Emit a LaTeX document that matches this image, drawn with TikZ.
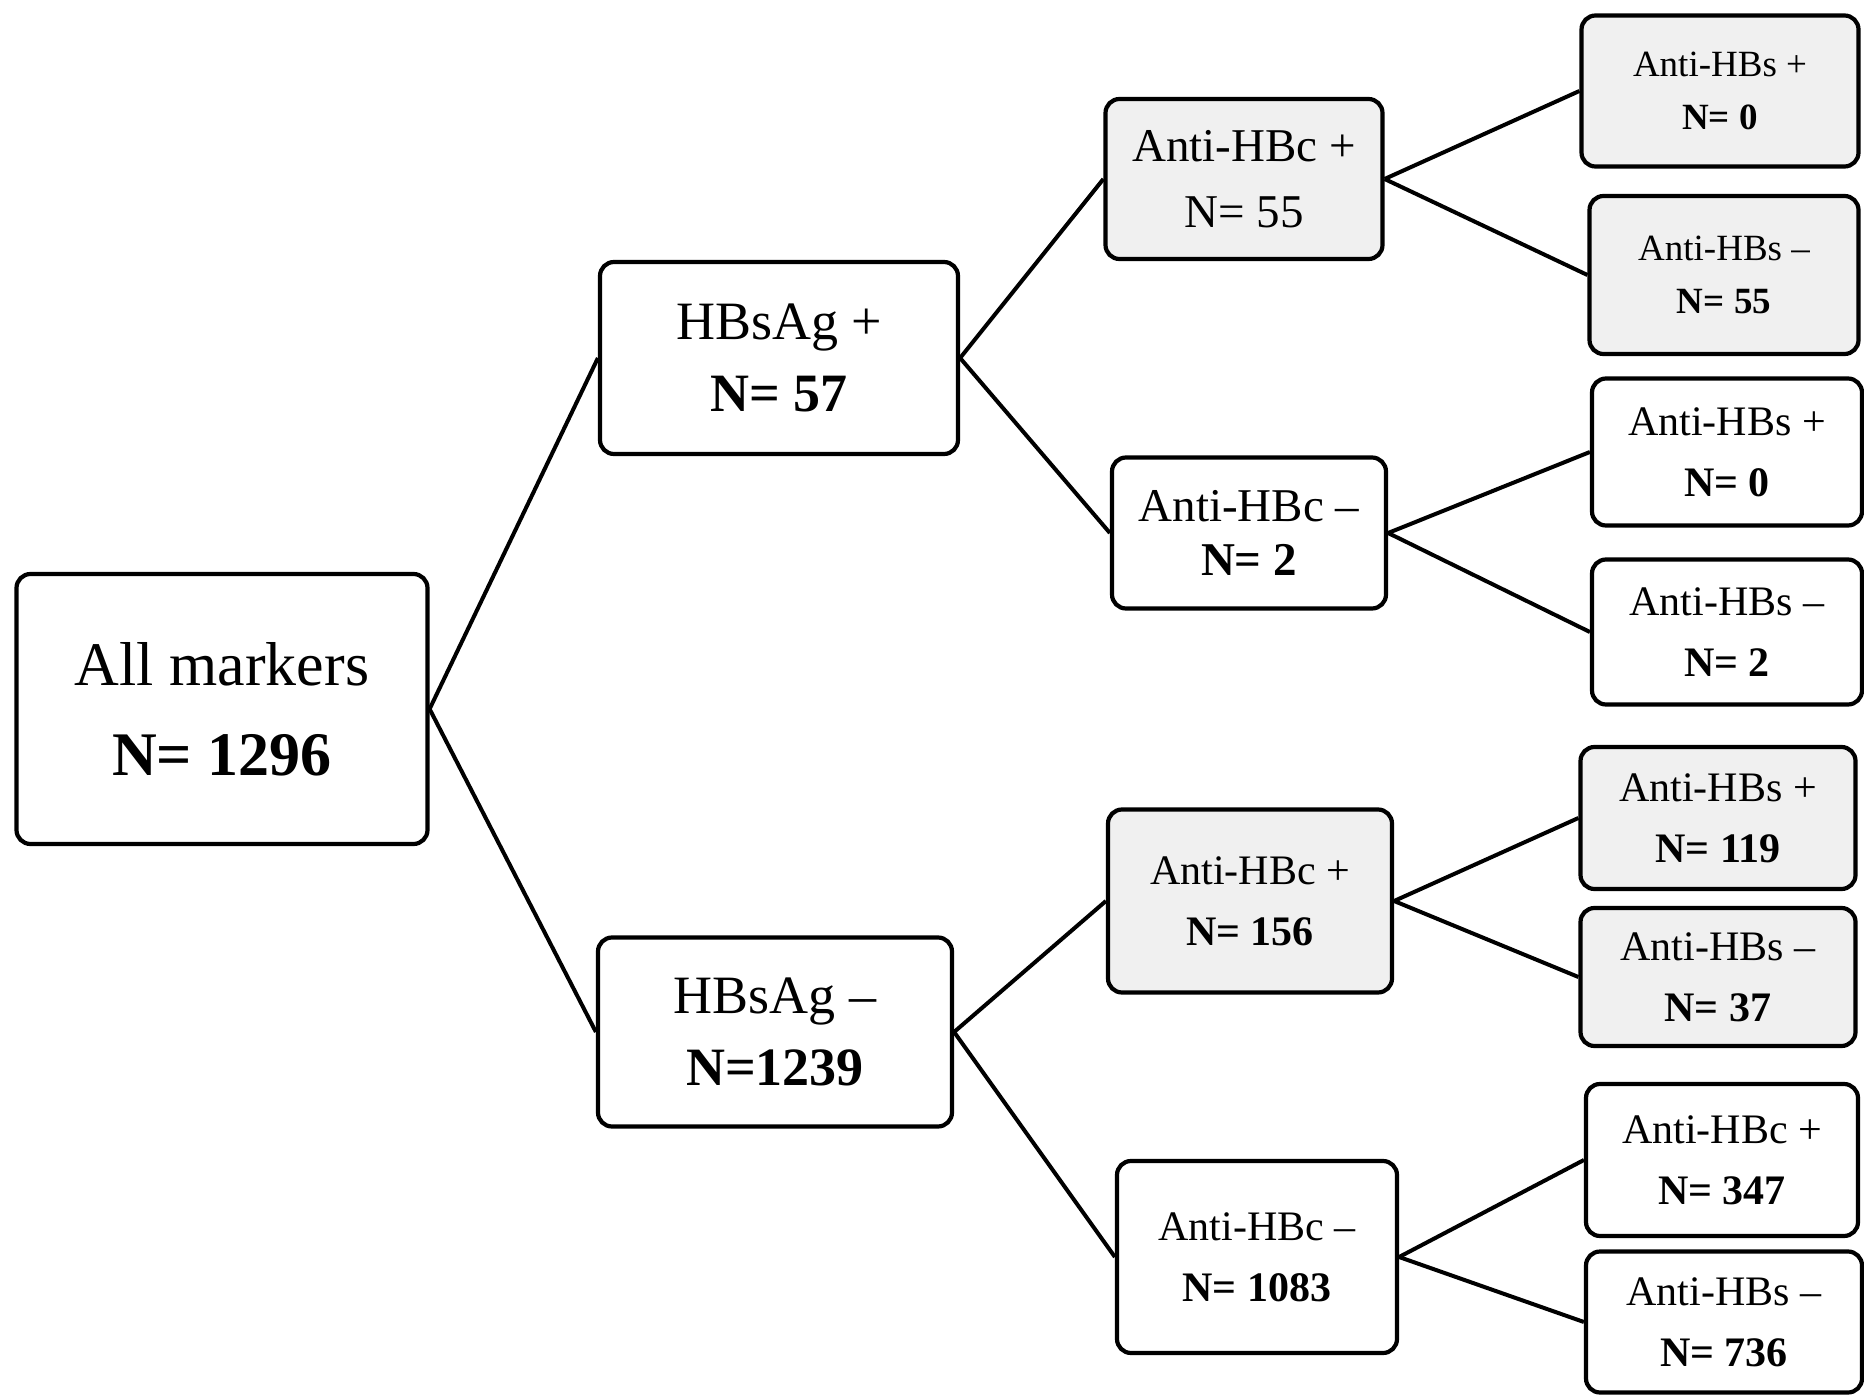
\documentclass[tikz,border=0pt]{standalone}
\usepackage{fontspec}
\setmainfont{Liberation Serif}
\usetikzlibrary{positioning}
\definecolor{boxgray}{RGB}{240,240,240}

\begin{document}
\begin{tikzpicture}[
  x=0.5pt,y=-0.5pt,
  mbox/.style={draw,line width=2.1pt,rounded corners=7pt,align=center,inner sep=0pt,fill=white},
  shaded/.style={mbox,fill=boxgray},
  link/.style={line width=2pt},
  rootfont/.style={font=\fontsize{31}{45}\selectfont},
  onefont/.style={font=\fontsize{27}{36}\selectfont},
  twofont/.style={font=\fontsize{23.5}{33}\selectfont},
  threefont/.style={font=\fontsize{21}{30.5}\selectfont},
  leaffont/.style={font=\fontsize{18.5}{26.5}\selectfont}
]
  \useasboundingbox (0,0) rectangle (1864,1396);

  % Root and first split
  \node[mbox,rootfont,minimum width=205.5pt,minimum height=135pt] (all) at (222,709) {All markers\\\textbf{N= 1296}};
  \node[mbox,onefont,minimum width=179pt,minimum height=96pt] (hbsp) at (779,358) {HBsAg +\\\textbf{N= 57}};
  \node[mbox,onefont,minimum width=177pt,minimum height=94.5pt] (hbsn) at (775,1032) {HBsAg –\\\textbf{N=1239}};

  % Anti-HBc level
  \node[shaded,twofont,minimum width=138.5pt,minimum height=80pt] (hbcp1) at (1244,179) {Anti-HBc +\\N= 55};
  \node[mbox,twofont,font=\fontsize{23.5}{27}\selectfont,minimum width=137pt,minimum height=75.5pt] (hbcn1) at (1249,533) {Anti-HBc –\\\textbf{N= 2}};
  \node[shaded,threefont,minimum width=142pt,minimum height=91.5pt] (hbcp2) at (1250,901) {Anti-HBc +\\\textbf{N= 156}};
  \node[mbox,threefont,minimum width=140pt,minimum height=96pt] (hbcn2) at (1257,1257) {Anti-HBc –\\\textbf{N= 1083}};

  % Anti-HBs level
  \node[shaded,leaffont,minimum width=138.5pt,minimum height=75.5pt] (s1) at (1720,91) {Anti-HBs +\\\textbf{N= 0}};
  \node[shaded,leaffont,minimum width=134.5pt,minimum height=79pt] (s2) at (1724,275) {Anti-HBs –\\\textbf{N= 55}};
  \node[mbox,threefont,minimum width=135pt,minimum height=73.5pt] (s3) at (1727,452) {Anti-HBs +\\\textbf{N= 0}};
  \node[mbox,threefont,minimum width=135pt,minimum height=72.5pt] (s4) at (1727,632) {Anti-HBs –\\\textbf{N= 2}};
  \node[shaded,threefont,minimum width=137.5pt,minimum height=71pt] (s5) at (1718,818) {Anti-HBs +\\\textbf{N= 119}};
  \node[shaded,threefont,minimum width=137.5pt,minimum height=69pt] (s6) at (1718,977) {Anti-HBs –\\\textbf{N= 37}};
  \node[mbox,threefont,minimum width=136pt,minimum height=76pt] (s7) at (1722,1160) {Anti-HBc +\\\textbf{N= 347}};
  \node[mbox,threefont,minimum width=138pt,minimum height=70.5pt] (s8) at (1724,1322) {Anti-HBs –\\\textbf{N= 736}};

  \draw[link] (all.east) -- (hbsp.west);
  \draw[link] (all.east) -- (hbsn.west);
  \draw[link] (hbsp.east) -- (hbcp1.west);
  \draw[link] (hbsp.east) -- (hbcn1.west);
  \draw[link] (hbsn.east) -- (hbcp2.west);
  \draw[link] (hbsn.east) -- (hbcn2.west);
  \draw[link] (hbcp1.east) -- (s1.west);
  \draw[link] (hbcp1.east) -- (s2.west);
  \draw[link] (hbcn1.east) -- (s3.west);
  \draw[link] (hbcn1.east) -- (s4.west);
  \draw[link] (hbcp2.east) -- (s5.west);
  \draw[link] (hbcp2.east) -- (s6.west);
  \draw[link] (hbcn2.east) -- (s7.west);
  \draw[link] (hbcn2.east) -- (s8.west);
\end{tikzpicture}
\end{document}
